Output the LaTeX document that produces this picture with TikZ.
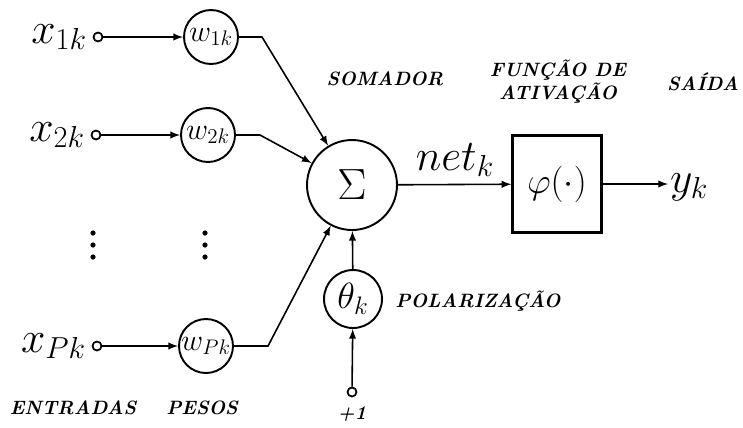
\documentclass[tikz,border=0pt]{standalone}
\usepackage{tikz}
\usetikzlibrary{arrows, positioning}

\begin{document}
\begin{tikzpicture}[x=0.02cm, y=-0.02cm, >=latex,
    neuron/.style={draw, circle, line width=1.1pt, inner sep=0pt, minimum size=1.08cm, font=\fontsize{17}{18}\selectfont},
    terminal/.style={draw, circle, line width=1pt, inner sep=0pt, minimum size=0.18cm},
    caption/.style={font=\bfseries\itshape\fontsize{11}{13}\selectfont, align=center, inner sep=0pt},
    big/.style={font=\fontsize{24}{26}\selectfont, inner sep=1pt},
    wire/.style={->, line width=0.9pt}]
        \useasboundingbox (0,0) rectangle (743,427);

        % entradas e pesos
        \node (t1) [terminal] at (98,37) {};
        \node (t2) [terminal] at (96,135) {};
        \node (tp) [terminal] at (97,346) {};
        \node (x1) [big, left=2pt of t1] {$x_{1k}$};
        \node (x2) [big, left=2pt of t2] {$x_{2k}$};
        \node (xp) [big, left=2pt of tp] {$x_{Pk}$};
        \node (w1) [neuron] at (211,37) {$w_{1k}$};
        \node (w2) [neuron] at (208,135) {$w_{2k}$};
        \node (wp) [neuron] at (206,346) {$w_{Pk}$};
        \foreach \dx in {93,205}
            \foreach \dy in {233,245,257}
                \fill (\dx,\dy) circle (2.6);

        % somador, polarizacao e ativacao
        \node (sum) [draw, circle, line width=1.1pt, inner sep=0pt, minimum size=1.8cm, font=\fontsize{28}{30}\selectfont] at (352,185) {$\Sigma$};
        \node (theta) [neuron, minimum size=1.16cm, font=\fontsize{21}{22}\selectfont] at (353,299) {$\theta_k$};
        \node (bias) [terminal] at (352,392) {};
        \node (one) [caption, below=5pt of bias] {+1};
        \node (phi) [draw, rectangle, line width=1.3pt, minimum width=1.78cm, minimum height=1.94cm, font=\fontsize{21}{22}\selectfont] at (557,184) {$\varphi(\cdot)$};
        \node (net) [big] at (455,160) {$net_k$};
        \node (yk) [big, anchor=west] at (668,187) {$y_k$};

        \coordinate (b1) at (262,37);
        \coordinate (b2) at (260,135);
        \coordinate (bp) at (268,346);

        \draw[wire] (t1) -- (w1);
        \draw[wire] (t2) -- (w2);
        \draw[wire] (tp) -- (wp);
        \draw[wire] (w1) -- (b1) -- (sum);
        \draw[wire] (w2) -- (b2) -- (sum);
        \draw[wire] (wp) -- (bp) -- (sum);
        \draw[wire] (bias) -- (theta);
        \draw[wire] (theta) -- (sum);
        \draw[wire] (sum) -- (phi);
        \draw[wire] (phi) -- (yk.west |- phi);

        % legendas
        \node (somador) [caption] at (385,79) {SOMADOR};
        \node (funcao) [caption] at (558,82) {FUNÇÃO DE\\ATIVAÇÃO};
        \node (saida) [caption] at (703,82) {SAÍDA};
        \node (polar) [caption, anchor=west] at (395,301) {POLARIZAÇÃO};
        \node (entradas) [caption] at (73,408) {ENTRADAS};
        \node (pesos) [caption] at (202,408) {PESOS};
    \end{tikzpicture}
\end{document}
